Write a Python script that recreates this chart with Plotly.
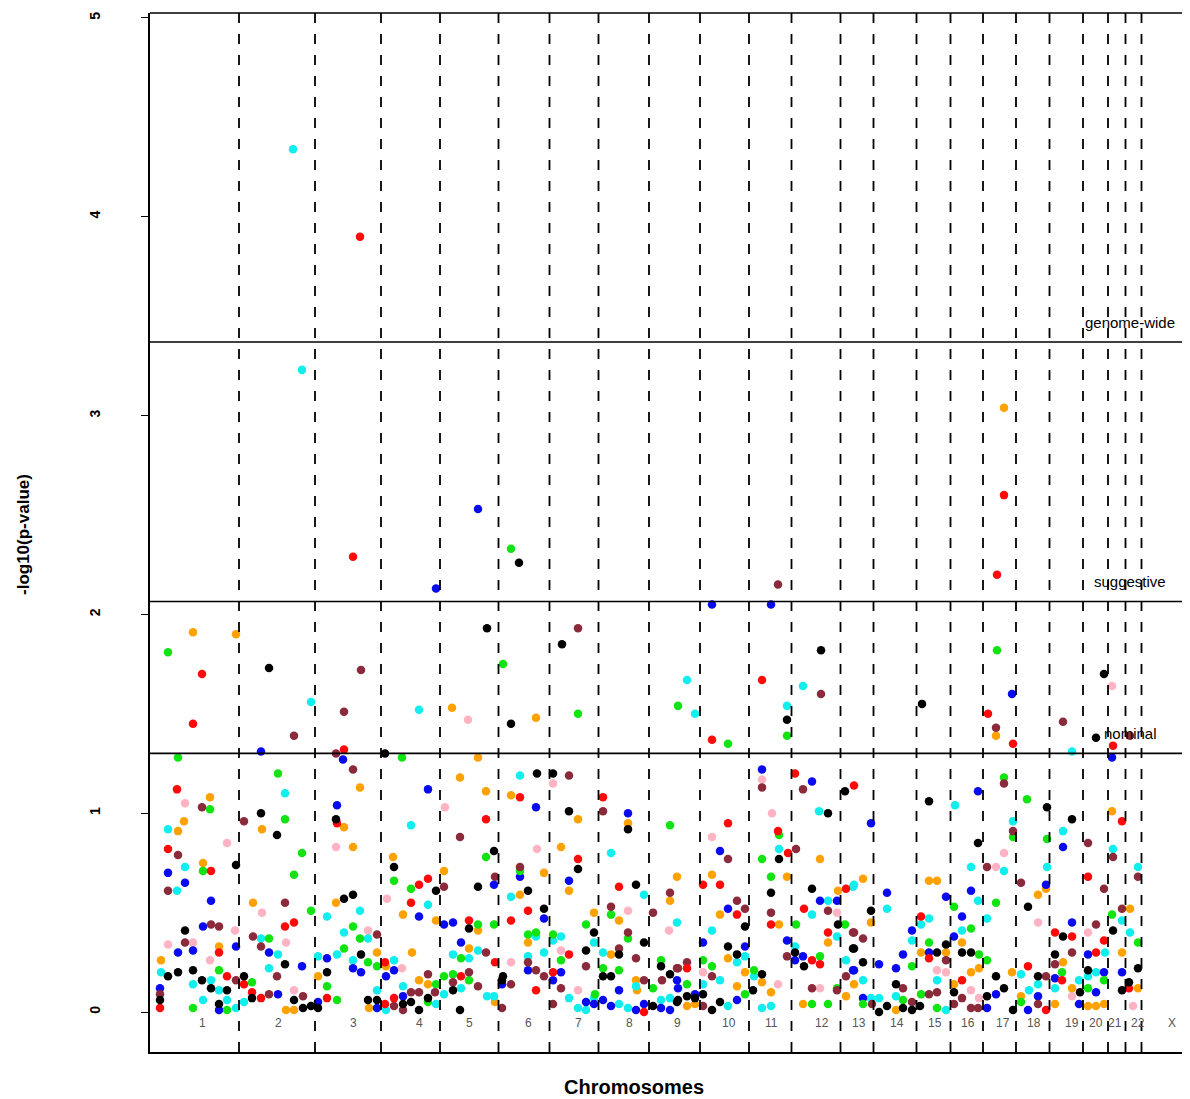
import plotly.graph_objects as go

# ---------------- data ----------------
chrom_labels = [str(i) for i in range(1, 23)] + ["X"]
# cumulative map position of chromosome ends (boundaries drawn as dashed lines)
chrom_ends = [89, 165, 231, 290, 348.5, 399.5, 448.5, 499, 550, 599, 641.5, 690.5,
              723.5, 766.5, 800.5, 833, 866, 899.5, 933, 958, 975.5, 991.5]
chrom_label_pos = [52, 128, 203, 269, 319, 378, 428, 479, 527, 579, 621, 672,
                   709, 747, 785, 818, 853, 884, 922, 946, 965, 988, 1022]

thresholds = [3.37, 2.065, 1.301]
threshold_names = ["genome-wide", "suggestive", "nominal"]

red_pos = [27, 61, 18, 135, 144, 69, 77, 94, 10, 102, 111, 177,
           194, 187, 336, 278, 269, 261, 319, 345, 235, 311, 235, 244,
           370, 453, 428, 469, 378, 361, 419, 403, 386, 494,
           645, 578, 628, 638, 553, 570, 696, 587, 654, 621, 678, 662, 670, 537,
           704, 771, 779, 812, 878,
           972, 938, 905, 922, 954, 946, 912, 979, 896,
           203, 52, 43, 854, 847, 612, 838, 863, 562, 963, 210]
red_logp = [1.12, 0.71, 0.82, 0.43, 0.45, 0.30, 0.18, 0.14, 0.02, 0.10, 0.07, 0.07,
            1.32, 0.95, 0.97, 0.67, 0.64, 0.55, 0.46, 0.25, 0.25, 0.18, 0.04, 0.07,
            1.08, 1.08, 0.77, 0.63, 0.51, 0.46, 0.29, 0.20, 0.11, 0.00,
            1.20, 0.95, 0.91, 0.80, 0.64, 0.64, 0.62, 0.49, 0.52, 0.44, 0.40, 0.26, 0.24, 0.22,
            1.14, 0.48, 0.27, 0.16, 0.23,
            0.96, 0.68, 0.40, 0.38, 0.36, 0.30, 0.16, 0.12, 0.01,
            2.29, 1.70, 1.45, 2.60, 2.20, 1.67, 1.50, 1.35, 1.37, 1.34, 3.90]

green_pos = [28, 128, 60, 135, 152, 53, 144, 161, 119, 69, 102, 177, 77, 43,
             252, 336, 244, 261, 328, 344, 203, 210, 194, 311, 218, 227, 286, 294, 303, 319, 187, 278,
             520, 370, 461, 436, 478, 386, 378, 403, 411, 469, 453, 511, 503, 445,
             629, 612, 621, 646, 695, 670, 553, 562, 604, 537, 595, 687, 662, 678,
             854, 877, 863, 846, 804, 821, 779, 829, 837, 762, 771, 871, 713, 753, 787,
             897, 962, 988, 912, 954, 938,
             361, 18, 353, 428, 847, 528, 637, 578]
green_logp = [1.28, 1.20, 1.02, 0.97, 0.80, 0.71, 0.69, 0.51, 0.37, 0.21, 0.15, 0.13, 0.01, 0.02,
              1.28, 0.78, 0.66, 0.62, 0.44, 0.44, 0.43, 0.37, 0.32, 0.27, 0.25, 0.23, 0.14, 0.18, 0.19, 0.16, 0.06, 0.05,
              0.94, 0.71, 0.49, 0.44, 0.37, 0.40, 0.39, 0.39, 0.26, 0.21, 0.22, 0.26, 0.12, 0.09,
              0.89, 0.77, 0.68, 0.44, 0.44, 0.28, 0.26, 0.23, 0.21, 0.14, 0.09, 0.12, 0.04, 0.04,
              1.18, 1.07, 0.88, 0.55, 0.53, 0.42, 0.35, 0.29, 0.26, 0.23, 0.09, 0.05, 0.04, 0.06, 0.02,
              0.87, 0.49, 0.35, 0.20, 0.16, 0.12,
              2.33, 1.81, 1.75, 1.50, 1.82, 1.54, 1.39, 1.35]

blue_pos = [111, 18, 35, 61, 53, 119, 86, 28, 43, 177, 152, 10, 69, 128, 168,
            193, 187, 278, 344, 269, 294, 303, 311, 244, 203, 211, 236, 352, 227, 253,
            386, 478, 370, 419, 394, 378, 411, 403, 527, 469, 453, 436, 444, 461, 486, 494, 511, 520,
            612, 662, 570, 578, 670, 687, 553, 595, 637, 645, 653, 703, 528, 545, 587,
            828, 721, 737, 796, 821, 812, 762, 804, 779, 753, 729, 746, 704, 846, 878, 713, 837,
            962, 913, 896, 922, 938, 972, 954, 905, 946, 888, 929,
            328, 286, 562, 621, 862]
blue_logp = [1.31, 0.70, 0.65, 0.56, 0.43, 0.30, 0.33, 0.30, 0.31, 0.27, 0.23, 0.12, 0.01, 0.09, 0.05,
             1.27, 1.04, 1.12, 0.64, 0.48, 0.44, 0.45, 0.35, 0.21, 0.22, 0.20, 0.18, 0.14, 0.02, 0.08,
             1.03, 1.00, 0.68, 0.66, 0.47, 0.21, 0.20, 0.16, 0.16, 0.11, 0.06, 0.05, 0.04, 0.03, 0.01, 0.04, 0.02, 0.01,
             1.22, 1.16, 0.81, 0.52, 0.56, 0.56, 0.35, 0.33, 0.36, 0.26, 0.28, 0.21, 0.12, 0.09, 0.06,
             1.11, 0.95, 0.60, 0.58, 0.61, 0.48, 0.41, 0.38, 0.30, 0.29, 0.24, 0.22, 0.21, 0.09, 0.01, 0.07, 0.02,
             1.28, 0.83, 0.64, 0.45, 0.29, 0.20, 0.20, 0.17, 0.10, 0.08, 0.04,
             2.53, 2.13, 2.05, 2.05, 1.60]

cyan_pos = [135, 18, 35, 27, 177, 111, 128, 168, 119, 11, 43, 61, 69, 77, 86, 53, 94,
            261, 278, 210, 194, 218, 187, 328, 303, 319, 203, 244, 311, 337, 344, 227, 236, 253, 286, 294,
            370, 461, 494, 361, 527, 386, 411, 403, 444, 378, 394, 453, 486, 419, 444, 428, 436, 469, 478, 511, 520,
            669, 629, 703, 678, 662, 687, 562, 645, 595, 587, 696, 570, 604, 553, 578, 612, 621,
            805, 863, 821, 854, 704, 737, 828, 812, 771, 779, 837, 762, 713, 787, 871, 721, 729, 746, 796,
            913, 963, 988, 897, 972, 980, 955, 946, 929, 938, 879, 888, 905,
            143, 152, 161, 269, 537, 653, 545, 637, 922]
cyan_logp = [1.10, 0.92, 0.73, 0.61, 0.48, 0.37, 0.29, 0.28, 0.22, 0.20, 0.14, 0.16, 0.11, 0.06, 0.02, 0.06, 0.05,
             0.94, 0.54, 0.51, 0.40, 0.37, 0.29, 0.31, 0.29, 0.27, 0.26, 0.26, 0.12, 0.08, 0.08, 0.11, 0.01, 0.13, 0.04, 0.09,
             1.19, 0.80, 0.59, 0.58, 0.45, 0.38, 0.38, 0.36, 0.35, 0.28, 0.30, 0.30, 0.13, 0.07, 0.07, 0.02, 0.01, 0.04, 0.02, 0.06, 0.07,
             1.01, 0.82, 0.63, 0.56, 0.49, 0.38, 0.41, 0.33, 0.28, 0.25, 0.26, 0.16, 0.18, 0.14, 0.03, 0.02, 0.03,
             1.04, 0.96, 0.73, 0.71, 0.64, 0.52, 0.56, 0.41, 0.44, 0.47, 0.47, 0.36, 0.16, 0.16, 0.19, 0.07, 0.07, 0.08, 0.01,
             0.91, 0.82, 0.73, 0.73, 0.46, 0.40, 0.30, 0.20, 0.16, 0.18, 0.11, 0.14, 0.12,
             4.34, 3.23, 1.56, 1.52, 1.67, 1.64, 1.50, 1.54, 1.31]

orange_pos = [60, 34, 28, 112, 53, 103, 69, 11, 168, 136, 144,
              210, 194, 203, 310, 328, 336, 243, 294, 186, 253, 286, 328, 227, 262, 319, 236, 269, 278, 219, 345,
              361, 428, 478, 411, 394, 527, 419, 370, 520, 469, 444, 378, 461, 486, 487,
              670, 562, 637, 688, 570, 629, 678, 578, 595, 612, 587, 621, 696, 537, 545, 653,
              713, 779, 787, 721, 771, 796, 812, 704, 821, 829, 862, 804, 871, 746,
              962, 896, 888, 980, 972, 913, 988, 922, 905, 938, 946, 954,
              43, 86, 302, 386, 854, 846]
orange_logp = [1.08, 0.96, 0.91, 0.92, 0.75, 0.55, 0.33, 0.26, 0.18, 0.01, 0.01,
               1.13, 0.93, 0.83, 1.18, 1.28, 1.11, 0.78, 0.71, 0.55, 0.49, 0.46, 0.41, 0.30, 0.30, 0.32, 0.23, 0.16, 0.14, 0.02, 0.05,
               1.09, 0.97, 0.95, 0.83, 0.70, 0.68, 0.61, 0.59, 0.56, 0.46, 0.50, 0.35, 0.29, 0.16, 0.11,
               0.77, 0.69, 0.68, 0.61, 0.49, 0.44, 0.35, 0.27, 0.20, 0.15, 0.13, 0.10, 0.08, 0.03, 0.04, 0.04,
               0.67, 0.66, 0.66, 0.45, 0.30, 0.30, 0.35, 0.14, 0.20, 0.22, 0.20, 0.14, 0.08, 0.01,
               1.01, 0.62, 0.59, 0.52, 0.30, 0.25, 0.12, 0.12, 0.04, 0.03, 0.03, 0.04,
               1.91, 1.90, 1.53, 1.48, 3.04, 1.39]

pink_pos = [35, 77, 112, 85, 43, 18, 136, 60, 144,
            295, 186, 237, 218, 252,
            403, 387, 478, 519, 361, 411, 428,
            612, 622, 562, 687, 553, 628, 670,
            854, 846, 787, 796, 821, 829,
            888, 938, 922, 983,
            318, 962]
pink_logp = [1.05, 0.85, 0.50, 0.41, 0.35, 0.34, 0.35, 0.26, 0.11,
             1.03, 0.83, 0.57, 0.41, 0.22,
             1.15, 0.82, 0.51, 0.41, 0.25, 0.31, 0.11,
             1.17, 1.00, 0.88, 0.50, 0.20, 0.14, 0.12,
             0.80, 0.73, 0.21, 0.20, 0.11, 0.07,
             0.45, 0.40, 0.08, 0.03,
             1.47, 1.64]

black_pos = [111, 127, 86, 35, 135, 18, 28, 43, 177, 52, 61, 94, 10, 77, 69, 102, 144, 153, 161, 168,
             235, 186, 344, 244, 286, 328, 194, 203, 319, 211, 352, 303, 218, 227, 253, 261, 269, 278, 310,
             387, 403, 419, 478, 428, 486, 378, 394, 444, 494, 436, 469, 511, 520, 453, 461, 353, 503, 527,
             695, 678, 629, 621, 662, 688, 595, 703, 578, 587, 645, 654, 612, 603, 528, 537, 545, 553, 562, 570,
             779, 828, 878, 721, 704, 796, 787, 812, 821, 713, 846, 854, 837, 746, 804, 863, 729, 737, 753, 762, 770,
             897, 922, 963, 913, 905, 988, 938, 888, 979, 972, 930,
             369, 337, 412, 119, 361, 671, 637, 772, 954, 946]
black_logp = [1.00, 0.89, 0.74, 0.41, 0.24, 0.18, 0.20, 0.21, 0.20, 0.16, 0.12, 0.18, 0.06, 0.11, 0.04, 0.07, 0.06, 0.02, 0.03, 0.02,
              1.30, 0.97, 0.81, 0.73, 0.61, 0.63, 0.57, 0.59, 0.42, 0.29, 0.16, 0.11, 0.06, 0.06, 0.04, 0.05, 0.01, 0.07, 0.01,
              1.20, 1.20, 1.01, 0.92, 0.72, 0.64, 0.61, 0.52, 0.40, 0.35, 0.31, 0.29, 0.23, 0.19, 0.18, 0.18, 0.18, 0.03, 0.05,
              1.11, 1.00, 0.77, 0.60, 0.62, 0.44, 0.43, 0.32, 0.33, 0.29, 0.30, 0.23, 0.19, 0.11, 0.06, 0.08, 0.07, 0.09, 0.01, 0.05,
              1.06, 0.85, 0.53, 0.51, 0.32, 0.34, 0.30, 0.30, 0.30, 0.25, 0.18, 0.12, 0.08, 0.14, 0.10, 0.01, 0.00, 0.03, 0.02, 0.01, 0.03,
              1.03, 0.97, 0.41, 0.38, 0.29, 0.22, 0.21, 0.18, 0.15, 0.11, 0.10,
              2.26, 1.93, 1.85, 1.73, 1.45, 1.82, 1.47, 1.55, 1.70, 1.38]

brown_pos = [52, 94, 28, 18, 135, 61, 69, 35, 103, 111, 86, 127, 10, 119, 153,
             186, 203, 310, 345, 294, 227, 336, 278, 319, 303, 328, 244, 253, 261, 269, 285, 352,
             419, 453, 370, 520, 461, 503, 478, 378, 386, 394, 436, 469, 486, 527, 361, 411, 494, 512, 403,
             612, 653, 646, 578, 587, 595, 678, 621, 703, 637, 537, 528, 562, 696, 662, 687, 553,
             854, 863, 837, 871, 704, 713, 796, 753, 779, 787, 812, 722, 762, 804, 821, 828,
             938, 963, 988, 954, 972, 946, 922, 905, 896, 888,
             428, 211, 194, 144, 628, 671, 846, 913, 980]
brown_logp = [1.03, 0.96, 0.79, 0.61, 0.55, 0.44, 0.43, 0.35, 0.38, 0.33, 0.16, 0.18, 0.09, 0.09, 0.08,
              1.30, 1.22, 0.88, 0.68, 0.63, 0.39, 0.30, 0.19, 0.20, 0.15, 0.13, 0.03, 0.01, 0.10, 0.10, 0.10, 0.02,
              1.19, 1.01, 0.73, 0.60, 0.53, 0.50, 0.40, 0.25, 0.21, 0.18, 0.23, 0.32, 0.27, 0.22, 0.14, 0.12, 0.16, 0.16, 0.04,
              1.13, 1.12, 0.82, 0.77, 0.56, 0.52, 0.51, 0.50, 0.40, 0.28, 0.25, 0.22, 0.18, 0.18, 0.12, 0.11, 0.03,
              1.15, 0.91, 0.73, 0.65, 0.40, 0.37, 0.26, 0.12, 0.09, 0.10, 0.07, 0.04, 0.05, 0.04, 0.02, 0.02,
              0.85, 0.78, 0.68, 0.62, 0.52, 0.44, 0.30, 0.24, 0.18, 0.04,
              1.93, 1.72, 1.51, 1.39, 2.15, 1.60, 1.43, 1.46, 1.39]

series = [
    ("pink", pink_pos, pink_logp, "#FFB3C3"),
    ("orange", orange_pos, orange_logp, "#FFA200"),
    ("cyan", cyan_pos, cyan_logp, "#10EEEE"),
    ("blue", blue_pos, blue_logp, "#0A0AF0"),
    ("green", green_pos, green_logp, "#12E412"),
    ("brown", brown_pos, brown_logp, "#8B2A3A"),
    ("red", red_pos, red_logp, "#FF0A0A"),
    ("black", black_pos, black_logp, "#000000"),
]

# ---------------- figure ----------------
fig = go.Figure()
for name, xs, ys, col in series:
    fig.add_trace(go.Scatter(x=xs, y=ys, mode="markers", name=name,
                             marker=dict(size=8.5, color=col, line=dict(width=0)),
                             showlegend=False, hoverinfo="x+y"))

shapes = []
for b in chrom_ends:
    shapes.append(dict(type="line", xref="x", yref="paper", x0=b, x1=b, y0=0, y1=1,
                       line=dict(color="black", width=1.8, dash="10px,11px")))
for t in thresholds:
    shapes.append(dict(type="line", xref="paper", yref="y", x0=0, x1=1, y0=t, y1=t,
                       line=dict(color="black", width=1.6)))
shapes.append(dict(type="line", xref="paper", yref="paper", x0=0, x1=1, y0=1, y1=1,
                   line=dict(color="black", width=1.6)))

FONT = "Liberation Sans, Arial"
annotations = []
for lab, p in zip(chrom_labels, chrom_label_pos):
    annotations.append(dict(x=p, y=-0.055, xref="x", yref="y", text=lab, showarrow=False,
                            xanchor="center", yanchor="middle",
                            font=dict(family=FONT, size=12, color="#555555")))
for t, nm in zip(thresholds, threshold_names):
    annotations.append(dict(x=980, y=t, xref="x", yref="y", text=nm, showarrow=False,
                            xanchor="center", yanchor="middle", yshift=20,
                            font=dict(family=FONT, size=15, color="black")))
annotations.append(dict(x=(634 - 150) / 1040, y=-0.034, xref="paper", yref="paper",
                        text="<b>Chromosomes</b>", showarrow=False,
                        xanchor="center", yanchor="middle",
                        font=dict(family=FONT, size=20, color="black")))
annotations.append(dict(x=(24 - 150) / 1040, y=0.4976, xref="paper", yref="paper",
                        text="<b>-log10(p-value)</b>", showarrow=False, textangle=-90,
                        xanchor="center", yanchor="middle",
                        font=dict(family=FONT, size=17, color="black")))

# the page adds an 8px body margin, so the figure is sized to fill the window
fig.update_layout(
    width=1182, height=1091,
    margin=dict(l=142, r=0, t=5, b=47),
    paper_bgcolor="white", plot_bgcolor="white",
    shapes=shapes, annotations=annotations,
    xaxis=dict(range=[0, 1040], showgrid=False, zeroline=False, showticklabels=False,
               ticks="", showline=True, linecolor="black", linewidth=1.6, mirror=False),
    yaxis=dict(range=[-0.201, 5.025], tickvals=[0, 1, 2, 3, 4, 5], ticks="outside",
               ticklen=7, tickwidth=1.4, tickcolor="black", tickangle=-90,
               ticklabelstandoff=36,
               tickfont=dict(family=FONT, size=14, color="black", weight="bold"),
               showgrid=False, zeroline=False, showline=True, linecolor="black", linewidth=1.6),
)

fig.write_html("out.html")
